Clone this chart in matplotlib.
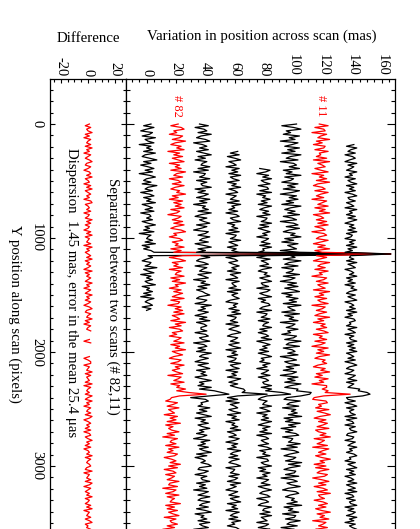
import numpy as np
import matplotlib.pyplot as plt
from matplotlib.ticker import MultipleLocator

plt.rcParams['font.family'] = ['Liberation Serif', 'DejaVu Serif']
plt.rcParams['font.size'] = 10.7
plt.rcParams['axes.unicode_minus'] = False

# sampling along the scan (pixels)
step = 15

# one entry per scan, drawn left to right
names = ['', '# 82', '', '', '', '', '# 11', '']
colors = ['black', 'red', 'black', 'black', 'black', 'black', 'red', 'black']
starts = [0, 0, 0, 240, 390, 0, 0, 180]
level_a = [1, 20.5, 38, 59, 80, 98, 118.5, 139]     # mean level before the jump
level_b = [-1, 17, 38, 59, 80, 98.5, 119, 139]      # mean level after the jump
jump_pos = 2400

# glitch seen in every scan
spike_pos = 1140
spike_top = 166

# bump just before the jump
bump_pos = [2310, 2325, 2340, 2355, 2370, 2385, 2400]
bumps = [[0, 0, 0, 0, 0, 0, 0],
         [1, 3, 5, 8, 14, 4, -3],
         [2, 4, 6, 10, 19, 5, -3],
         [2, 3, 6, 10, 18, 4, -4],
         [1, 3, 6, 9, 17, 4, -6],
         [2, 3, 5, 9, 16, 3, -5],
         [1, 3, 5, 8, 15, 3, -6],
         [2, 3, 6, 9, 16, 4, -3]]

# scatter around the mean level (mas)
s1 = [2, -3, 4, -1, -5, 3, 1, -4, 5, -2, 0, 4, -6, 2, -1, 3, -3, 5, -2, -4,
      1, 6, -3, 2, -5, 0, 4, -2, 3, -6, 1, 5, -1, -3, 2, -4, 6, 0, -2, 3,
      -5, 1, 4, -3, 2, -1, 5, -4, 0, 3, -2, 4, -5, 1, 2, -1, 3, -4, 0, 5,
      -2, 1, -3, 4, -6, 2, 0, -1, 3, -2, 5, -4, 1, -3, 2, 4, -5, 0, 3, -1,
      -4, 2, 1, -2, 6, -3, 0, 4, -5, 2, -1, 3, -2, 0, 5, -4, 1, -1, 3, -3,
      2, -5, 4, 0, -2, 1, 3, -4, 2, -1]
s2 = [1, -4, 3, 5, -2, 0, -5, 4, 2, -3, 6, -1, -4, 3, 0, 5, -6, 2, -2, 4,
      -3, 1, 5, -5, 2, -1, 3, -4, 6, 0, -2, 4, -5, 1, 3, -3, 5, -1, -4, 2,
      0, 6, -3, 1, -5, 4, -2, 3, -1, 5, -4, 2, 0, -6, 3, 1, -3, 4, -2, 5,
      -1, -4, 3, 6, -2, 0, -5, 2, 4, -3, 1, -1, 5, -4, 3, -2, 0, 4, -5, 2,
      6, -3, 1, -2, 4, -5, 3, 0, -1, 5, -4, 2, -3, 6, -1, 1, -5, 3, -2, 4,
      0, -3, 5, -4, 2, 1, -6, 3, -1, 4, -2, 5, -3, 0, 2, -4, 6, -1, 3, -5,
      2, 4, -3, 0, -5, 3, 1, -2, 5, -4, 2, -1, 6, -3, 0, 4, -2, -5, 3, 1,
      -4, 5, -1, 2, -3, 0, 4, -6, 3, 1, -2, 5, -4, 2, -1, 3, -5, 0, 6, -2,
      3, -1, -4, 4, 1, -3, 5, -2, 0, 2, -5, 4, -1, 3, -3, 6, -4, 1, -2, 0,
      5, -3, 2, -6, 4, 0, -1, 3, -4, 5, -2, 1, -3, 4, 2, -5, 0, 3, -1, 6,
      -2, 4, -5, 1, 3, -4, 2, 0, -3, 5, -1, -2, 4, -6, 3, 1, -4, 5, -3, 2,
      0, -1, 6, -4, 2, -3, 4, -2, 1, 5, -5, 3, -1, 0, 4, -3, 2, -6, 5, -2]
s3 = [-2, 4, -5, 1, 3, -3, 6, -1, -4, 2, 5, -6, 0, 3, -2, 4, -4, 1, 6, -3,
      2, -5, 3, 0, -1, 5, -3, 4, -6, 2, 1, -2, 5, -4, 3, -1, 0, 6, -5, 2,
      -3, 4, 1, -4, 5, -2, 3, -6, 2, 0, 4, -3, 6, -1, -5, 3, -2, 1, 5, -4,
      3, -1, -6, 4, 2, -3, 5, 0, -2, 4, -5, 1, 6, -3, 2, -4, 3, -1, 5, -2,
      -4, 1, 4, -5, 3, 0, -2, 6, -3, 1, 4, -6, 2, -1, 5, -3, 3, -4, 0, 2,
      5, -2, -4, 3, 1, -5, 6, -1, 2, -3, 4, 0, -5, 3, -2, 5, -4, 1, 3, -1,
      -1, 3, -5, 2, 4, -2, 0, 5, -6, 1, 3, -3, 2, -4, 6, 0, -2, 4, -1, -5,
      4, -3, 1, 5, -4, 2, -1, 3, -5, 0, 6, -2, 1, -3, 4, -6, 2, 3, -1, 0,
      -5, 2, 4, -1, 0, -3, 5, -2, 3, -4, 1, 6, -5, 2, -1, 4, -3, 0, 5, -2,
      1, -4, 3, 0, -6, 5, -1, 2, -3, 4, -2, 1, 6, -4, 3, -5, 0, 2, -1, 4,
      6, -2, -3, 4, 1, -5, 3, -1, 0, 5, -4, 2, -2, 3, -6, 4, 1, -3, 5, -1,
      -3, 5, 0, -2, 4, -4, 2, 6, -5, 1, -1, 3, -3, 5, -2, 0, 4, -6, 2, 1]
s4 = [3, -2, 4, -4, 1, 5, -3, 0, 2, -5, 4, -1, 3, -3, 5, -2, 0, 4, -4, 2,
      -1, 5, -3, 1, 3, -5, 2, 0, -2, 4, -4, 5, -1, 1, -3, 3, -5, 2, 4, -2,
      0, 5, -4, 1, -1, 3, -3, 4, -5, 2, 1, -2, 5, -3, 0, 3, -4, 2, -1, 4,
      -2, 5, -5, 1, 3, -3, 0, 4, -1, 2, -4, 5, -2, 1, 3, -5, 4, -1, 0, 2,
      -3, 5, -4, 3, -1, 1, 4, -2, -5, 3, 0, 2, -3, 4, -1, 5, -4, 2, 1, -2,
      3, -5, 4, 0, -3, 2, 5, -1, -4, 3, 1, -2, 4, -3, 0, 5, -5, 2, -1, 3,
      -4, 2, 1, -3, 5, -2, 0, 4, -5, 3, -1, 2, -4, 5, 1, -3, 3, -2, 0, 4,
      2, -4, 5, -1, 0, 3, -5, 4, -2, 1, 3, -3, 0, 5, -4, 2, -1, 4, -5, 1,
      -1, 3, -2, 5, -4, 0, 2, -3, 4, 1, -5, 3, -1, 2, -4, 5, 0, -2, 3, -3,
      4, -1, -3, 2, 5, -5, 1, 0, -2, 4, -3, 3, 1, -4, 5, -2, 2, -1, -5, 3,
      0, -3, 4, -2, 1, 5, -4, 2, -1, 3, -5, 4, 0, -2, 3, -3, 5, -1, 1, -4,
      2, 4, -5, 1, -2, 3, 0, -4, 5, -1, 2, -3, 4, -5, 1, 3, -2, 0, 4, -3]
s5 = [-3, 4, 1, -5, 3, -1, 5, -2, 0, 4, -4, 2, 3, -3, 5, -5, 1, -1, 4, -2,
      2, -4, 5, 0, -3, 3, -1, 4, -5, 2, 1, -2, 5, -3, 3, -4, 0, 4, -1, 2,
      -5, 3, 1, -2, 4, -3, 5, -1, 0, -4, 3, 2, -5, 4, -2, 1, 3, -3, 5, -1,
      -4, 2, 0, 4, -3, 1, 5, -2, -1, 3, -5, 4, 2, -3, 0, 5, -4, 1, -2, 3,
      4, -1, -3, 5, -5, 2, 1, -2, 4, -4, 3, 0, -1, 5, -3, 2, -4, 1, 3, -2,
      5, -5, 0, 4, -1, 2, -3, 3, -4, 1, 5, -2, 0, -3, 4, -1, 2, -5, 3, 1,
      -2, 4, -4, 1, 3, -1, 0, 5, -3, 2, -5, 3, 1, -2, 4, -4, 2, 0, -1, 5,
      -3, 1, 4, -5, 2, -1, 3, -2, 5, 0, -4, 4, -1, 2, -3, 5, -5, 1, 3, -2,
      0, 3, -4, 2, 5, -3, 1, -1, 4, -5, 2, 3, -2, 0, 5, -4, 1, -3, 4, -1,
      2, -5, 3, 1, -2, 4, -4, 0, 5, -1, -3, 2, 4, -5, 1, 3, -2, -4, 5, 0,
      -1, 4, -3, 5, -2, 0, 2, -5, 3, 1, -4, 4, -1, 2, -3, 0, 5, -2, 1, -4,
      3, -2, 1, -4, 5, -3, 0, 2, -1, 4, -5, 3, 1, -2, 5, -4, 2, -1, 3, 0]
s6 = [4, -6, 2, 7, -3, 0, -5, 6, -1, 3, -7, 5, 1, -4, 6, -2, 3, -6, 7, 0,
      -3, 5, -7, 2, 4, -1, 6, -5, 1, -3, 7, -4, 2, 0, -6, 5, -2, 3, -5, 6,
      1, -7, 4, -1, 5, -3, 2, -6, 7, 0, -4, 3, -2, 6, -5, 1, 4, -7, 2, 5,
      -3, 6, -1, -5, 3, 0, 7, -4, 2, -6, 5, -2, 1, 4, -7, 6, -3, 0, 3, -5,
      7, -1, -4, 5, -6, 2, 1, -3, 6, -5, 3, 0, -7, 4, -2, 5, -4, 2, 6, -6,
      1, -3, 5, -1, 4, -5, 7, -2, 0, 3, -6, 6, -4, 2, -1, 5, -7, 3, 1, -3,
      5, -2, 0, -6, 4, 2, -4, 7, -1, -3, 6, -5, 1, 3, -2, 5, -7, 0, 4, -4,
      -1, 6, -3, 2, -5, 4, 1, -7, 5, -2, 3, -4, 7, 0, -6, 2, -1, 5, -3, 4,
      2, -5, 6, -1, -3, 5, -6, 3, 0, 4, -2, 7, -5, 1, -4, 6, -2, 3, -7, 1,
      -4, 3, 5, -6, 1, 0, -2, 6, -3, 4, -7, 2, 5, -1, -5, 3, 1, -4, 7, -2,
      6, -1, -5, 3, 2, -4, 5, -7, 1, 4, -3, 0, 6, -2, -6, 3, 5, -1, -4, 2,
      0, 4, -3, 7, -5, 1, -2, 5, -6, 3, 2, -4, 6, -1, -3, 4, -7, 2, 0, 5]
s7 = [-1, 5, -4, 2, 3, -6, 4, 0, -2, 6, -3, 1, -5, 3, 2, -4, 5, -1, 0, -3,
      4, -5, 6, -2, 1, 3, -4, 0, 5, -6, 2, -1, 4, -3, 6, -2, -5, 1, 3, -4,
      5, 0, -3, 2, -6, 4, 1, -2, 5, -4, 3, -1, 6, -5, 0, 2, -3, 4, -2, 5,
      -4, 1, 3, -6, 2, 4, -1, -3, 5, 0, -5, 3, -2, 6, -4, 1, 2, -3, 4, -1,
      -5, 6, 0, -2, 3, -4, 5, -1, 1, -6, 4, 2, -3, 5, -2, 0, 3, -5, 6, -1,
      2, -4, 4, -2, 0, 5, -6, 3, 1, -3, 4, -1, -4, 6, -2, 2, -5, 3, 0, 4,
      -3, 2, 5, -5, 1, -1, 4, -4, 3, 0, -6, 5, -2, 2, -3, 6, -1, -4, 3, 1,
      4, -2, -5, 3, 0, 6, -3, 1, -4, 5, -1, 2, -6, 4, 3, -2, 0, -5, 5, -1,
      1, -6, 3, 4, -2, 0, -4, 5, -3, 2, 6, -1, -5, 3, -2, 4, 1, -3, 5, -4,
      -2, 3, -1, 6, -5, 2, 0, -3, 4, -6, 5, 1, -2, 3, -4, 0, 6, -1, 2, -5,
      3, -4, 5, -1, -3, 4, 2, -6, 0, 5, -2, 3, -5, 1, 4, -3, 6, -2, -1, 2,
      -5, 1, 4, -2, 3, -4, 0, 6, -3, 2, -1, 5, -6, 3, 1, -2, 4, -4, 0, 3]
s8 = [2, -3, 4, 0, -2, 3, -4, 1, 3, -1, -4, 4, -2, 2, 0, -3, 4, -1, 1, -4,
      3, -2, 0, 4, -3, 2, -1, 3, -4, 1, 4, -2, -1, 3, -3, 0, 2, -4, 4, -1,
      1, -3, 3, -2, 4, 0, -4, 2, -1, 3, -2, 4, -3, 1, 0, -4, 3, -1, 2, -3,
      4, -2, 1, -4, 3, 0, -1, 2, -3, 4, -2, 1, 3, -4, 0, 2, -1, 4, -3, 1,
      -2, 3, -4, 2, 0, 4, -1, -3, 3, -2, 1, 4, -4, 0, 2, -1, 3, -3, 4, -2,
      1, -4, 2, 3, -1, 0, -3, 4, -2, 1, 3, -4, 2, -1, 0, 4, -3, 2, -2, 3,
      -1, 4, -3, 0, 2, -2, 3, -4, 1, 4, -1, -3, 2, 0, -4, 3, 1, -2, 4, -3,
      2, 0, -4, 3, -1, 2, -3, 4, 0, -2, 3, -4, 1, 4, -3, 2, -1, 0, 3, -4,
      4, -3, 1, 2, -4, 3, -1, 0, 4, -2, -3, 2, 1, -4, 3, 0, -2, 4, -1, 1,
      -3, 2, 4, -1, 0, -4, 3, -2, 1, 4, -3, 2, -1, 3, -4, 0, 2, -2, 4, -3,
      0, 3, -2, 4, -4, 1, 2, -3, 3, -1, 0, 4, -4, 2, -2, 3, 1, -3, 4, -1,
      2, -4, 3, -1, 1, 4, -3, 0, 2, -2, 3, -4, 4, -1, 0, 2, -3, 3, -2, 1]
scans = [s1, s2, s3, s4, s5, s6, s7, s8]

# difference between scans 82 and 11 (mas)
diff = [1, -2, 2, -1, 0, 3, -2, 1, -3, 2, 0, -1, 2, -2, 3, -1, 1, -3, 2, 0,
        -2, 1, 3, -1, -2, 2, 0, -3, 1, 2, -1, 3, -2, 0, 1, -3, 2, -1, 3, -2,
        0, 2, -1, 1, -3, 2, 3, -2, 0, 1, -1, 2, -3, 1, 0, -2, 3, -1, 2, -2,
        1, 0, -3, 2, -1, 3, -2, 1, 0, -1, 2, -3, 3, -1, 1, -2, 0, 2, -1, 3,
        -2, 1, -1, 2, 0, -3, 3, -2, 1, -1, 2, 0, -2, 3, -1, 1, -3, 2, 0, -2,
        3, -1, 1, -2, 2, 0, -3, 1, 3, -1, -2, 2, 0, -1, 3, -2, 1, -3, 2, 0,
        -1, 2, -2, 3, 0, -1, 1, -3, 2, 1, -2, 0, 3, -1, -2, 2, 1, -3, 0, 2,
        2, -3, 1, 0, -1, 3, -2, 2, -1, 0, 1, -2, 3, -3, 2, 0, -1, 1, -2, 3,
        0, -2, 3, -1, 1, -3, 2, 0, -1, 2, -2, 3, 1, -3, 0, 2, -1, 1, -2, 2,
        -3, 1, 2, -2, 0, 3, -1, 1, -2, 2, -3, 0, 1, -1, 3, -2, 2, 0, -1, 1,
        2, -1, -2, 3, -3, 1, 0, -1, 2, -2, 3, 1, -3, 2, 0, -2, 1, -1, 3, -2,
        1, 0, -2, 2, -1, 3, -3, 1, 0, -1, 2, -2, 1, 3, -2, 0, -1, 2, -3, 1]
# stretches of the difference with no data (pixels)
diff_gaps = [(1830, 1875), (1935, 2025)]

fig = plt.figure(figsize=(4.2, 5.29), dpi=100)
W, H = 420.0, 529.0
top, bot = 79, 560
axd = fig.add_axes([50 / W, 1 - bot / H, 76 / W, (bot - top) / H])
axm = fig.add_axes([126 / W, 1 - bot / H, 269 / W, (bot - top) / H])

for i, s in enumerate(scans):
    pos = starts[i] + step * np.arange(len(s))
    y = np.where(pos < jump_pos, level_a[i], level_b[i]) + np.array(s, float)
    y[pos == spike_pos] = spike_top
    for p, b in zip(bump_pos, bumps[i]):
        y[pos == p] += b
    axm.plot(y, pos, color=colors[i], lw=0.9)
    if names[i]:
        axm.text(level_a[i], -160, names[i], color=colors[i], rotation=-90,
                 ha='center', va='center', fontsize=9)

dpos = step * np.arange(len(diff))
dy = np.array(diff, float)
for g0, g1 in diff_gaps:
    dy[(dpos >= g0) & (dpos <= g1)] = np.nan
axd.plot(dy, dpos, color='red', lw=0.9)

axd.text(18.5, 1510, 'Separation between two scans (# 82,11)', rotation=-90,
         ha='center', va='center')
axd.text(-12.5, 1475, 'Dispersion  1.45 mas, error in the mean 25.4 \u03bcas',
         rotation=-90, ha='center', va='center')

ylo = -395
yhi = (bot - 124) / 0.114
axd.set_xlim(-28, 28)
axm.set_xlim(-14, 169)
for ax in (axd, axm):
    ax.set_ylim(yhi, ylo)
    ax.xaxis.tick_top()
    ax.xaxis.set_major_locator(MultipleLocator(20))
    ax.xaxis.set_minor_locator(MultipleLocator(5))
    ax.yaxis.set_major_locator(MultipleLocator(1000))
    ax.yaxis.set_minor_locator(MultipleLocator(100))
    ax.tick_params(axis='x', which='both', direction='in', top=True, bottom=False,
                   labeltop=True, labelbottom=False, labelrotation=-90, pad=2,
                   labelsize=10.5, width=0.8)
    ax.tick_params(axis='x', which='major', length=3.2)
    ax.tick_params(axis='x', which='minor', length=2.2)
    ax.tick_params(axis='y', which='both', direction='in', left=True, right=True,
                   labelrotation=-90, labelsize=10.5, width=0.8, pad=5)
    for sp in ax.spines.values():
        sp.set_linewidth(0.9)

axd.tick_params(axis='y', which='major', length=3.6)
axd.tick_params(axis='y', which='minor', length=2.2)
axm.tick_params(axis='y', which='major', length=5.8, labelleft=False)
axm.tick_params(axis='y', which='minor', length=3.2)
for t in axd.get_yticklabels():
    t.set_verticalalignment('center')

fig.text(15 / W, 1 - 314 / H, 'Y position along scan (pixels)', rotation=-90,
         ha='center', va='center')
fig.text(262 / W, 1 - 36 / H, 'Variation in position across scan (mas)',
         ha='center', va='center')
fig.text(88 / W, 1 - 38 / H, 'Difference', ha='center', va='center')

fig.savefig('out.png', dpi=100)
